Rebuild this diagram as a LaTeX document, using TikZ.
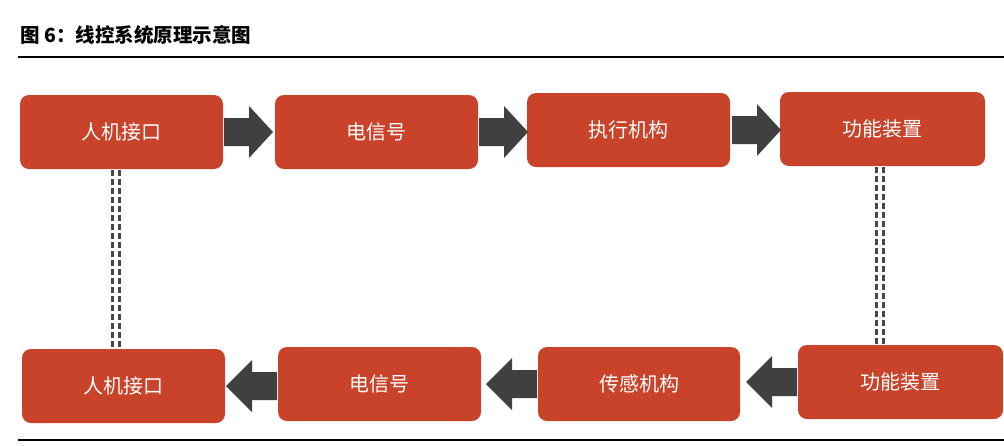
\documentclass[tikz,border=0pt]{standalone}
\usepackage{fontspec}
\setmainfont{Noto Sans CJK SC}
\begin{document}
\begin{tikzpicture}[x=1pt,y=-1pt,
 box/.style={fill=boxc,rounded corners=9pt,inner sep=0pt,text=white,font=\fontsize{20}{24}\selectfont},
 dl/.style={draw=black!72,line width=3pt,dash pattern=on 6pt off 3pt},
 ar/.style={fill=arc}]
\definecolor{boxc}{HTML}{C8432A}
\definecolor{arc}{HTML}{404040}
\useasboundingbox (0,0) rectangle (1004,445);
\node[anchor=west,font=\bfseries\fontsize{19.5}{22}\selectfont] (title) at (17,35) {图 6：线控系统原理示意图};
\draw[line width=1.2pt] (18,57) -- (1004,57);
\draw[line width=1.2pt] (18,440) -- (1004,440);
\newcommand\bx[6]{\path[box] (#2,#3) rectangle (#4,#5); \node[text=white,font=\fontsize{20}{24}\selectfont] (#1) at ({(#2+#4)/2},{(#3+#5)/2}) {#6};}
\bx{a1}{20}{95}{223}{169}{人机接口}
\bx{a2}{275}{95}{478}{169}{电信号}
\bx{a3}{527}{93}{730}{167}{执行机构}
\bx{a4}{780}{92}{985}{166}{功能装置}
\bx{b1}{22}{349}{225}{423}{人机接口}
\bx{b2}{278}{347}{481}{421}{电信号}
\bx{b3}{538}{347}{740}{421}{传感机构}
\bx{b4}{798}{345}{1003}{419}{功能装置}
\foreach \x/\y in {224/132, 479/132, 732/130}{
 \fill[ar] (\x,\y-14) -- (\x+25,\y-14) -- (\x+25,\y-26) -- (\x+49,\y) -- (\x+25,\y+26) -- (\x+25,\y+14) -- (\x,\y+14) -- cycle;}
\foreach \x/\y in {277/386, 537/384, 797/382}{
 \fill[ar] (\x,\y-14) -- (\x-25,\y-14) -- (\x-25,\y-26) -- (\x-51,\y) -- (\x-25,\y+26) -- (\x-25,\y+14) -- (\x,\y+14) -- cycle;}
\draw[dl] (112.5,170) -- (112.5,349); \draw[dl] (119.5,170) -- (119.5,349);
\draw[dl] (876.5,167) -- (876.5,345); \draw[dl] (883.5,167) -- (883.5,345);
\end{tikzpicture}
\end{document}
